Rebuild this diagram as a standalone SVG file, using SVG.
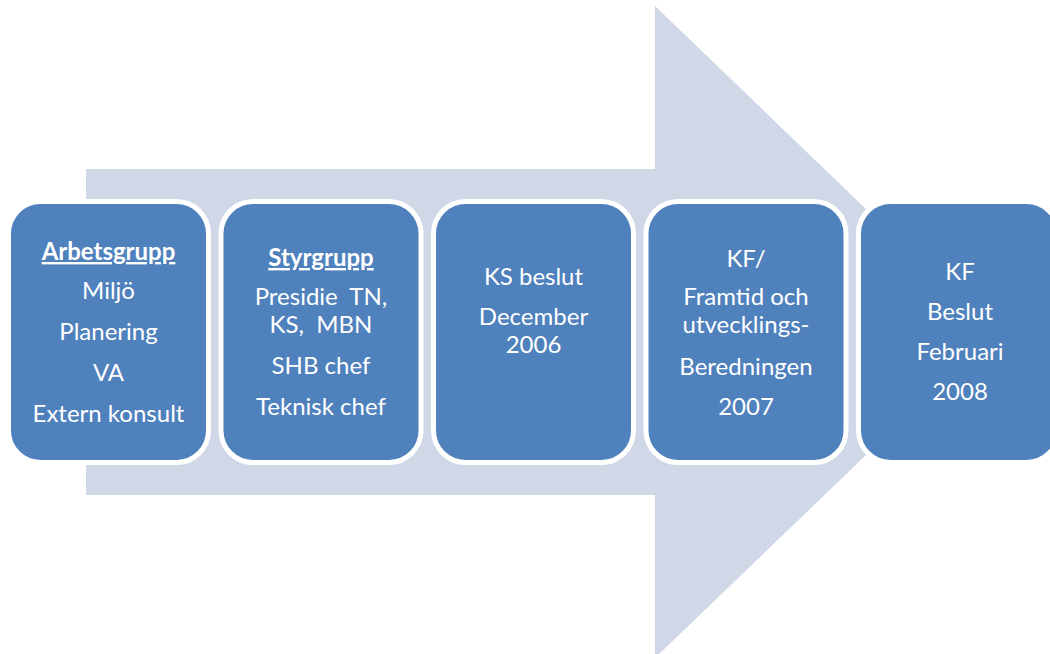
<svg xmlns="http://www.w3.org/2000/svg" width="1050" height="654" viewBox="0 0 1050 654">
<style>
.box{fill:#4F81BD;stroke:#FFFFFF;stroke-width:5}
.t{font-family:Lato,"Liberation Sans",sans-serif;font-size:24px;fill:#FFFFFF;text-anchor:middle;white-space:pre}
.h{font-weight:bold;text-decoration:underline}
</style>
<rect width="1050" height="654" fill="#FFFFFF"/>
<g id="connectors">
<polygon points="86,169 655,169 655,6 994,332 655,658 655,495 86,495" fill="#D0D8E8"/>
</g>
<g id="node1">
<rect class="box" x="8.5" y="201.5" width="200" height="261" rx="32"/>
<text class="t h" x="108.5" y="260">Arbetsgrupp</text>
<text class="t" x="108.5" y="299">Miljö</text>
<text class="t" x="108.5" y="340">Planering</text>
<text class="t" x="108.5" y="381">VA</text>
<text class="t" x="108.5" y="422">Extern konsult</text>
</g>
<g id="node2">
<rect class="box" x="221" y="201.5" width="200" height="261" rx="32"/>
<text class="t h" x="321" y="266">Styrgrupp</text>
<text class="t" x="321" y="305" xml:space="preserve">Presidie  TN,</text>
<text class="t" x="321" y="333" xml:space="preserve">KS,  MBN</text>
<text class="t" x="321" y="374">SHB chef</text>
<text class="t" x="321" y="415">Teknisk chef</text>
</g>
<g id="node3">
<rect class="box" x="433.5" y="201.5" width="200" height="261" rx="32"/>
<text class="t" x="533.5" y="285">KS beslut</text>
<text class="t" x="533.5" y="325">December</text>
<text class="t" x="533.5" y="353">2006</text>
</g>
<g id="node4">
<rect class="box" x="646" y="201.5" width="200" height="261" rx="32"/>
<text class="t" x="746" y="267">KF/</text>
<text class="t" x="746" y="305">Framtid och</text>
<text class="t" x="746" y="333">utvecklings-</text>
<text class="t" x="746" y="375">Beredningen</text>
<text class="t" x="746" y="415">2007</text>
</g>
<g id="node5">
<rect class="box" x="858.5" y="201.5" width="200" height="261" rx="32"/>
<text class="t" x="960" y="280">KF</text>
<text class="t" x="960" y="320">Beslut</text>
<text class="t" x="960" y="360">Februari</text>
<text class="t" x="960" y="400">2008</text>
</g>
</svg>
